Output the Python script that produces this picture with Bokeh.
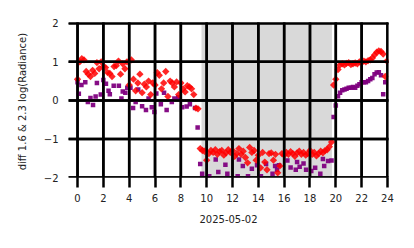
from bokeh.plotting import figure
from bokeh.embed import file_html
from bokeh.resources import INLINE
from bokeh.models import FixedTicker, ColumnDataSource, BoxAnnotation
import math

# ---------------- data ----------------
red_hours = [
    0.00, 0.17, 0.33, 0.50, 0.67, 0.83, 1.00, 1.17, 1.33, 1.50, 1.67, 1.83,
    2.00, 2.17, 2.33, 2.50, 2.67, 2.83, 3.00, 3.17, 3.33, 3.50, 3.67, 3.83,
    4.00, 4.17, 4.33, 4.50, 4.67, 4.83, 5.00, 5.17, 5.33, 5.50, 5.67, 5.83,
    6.00, 6.17, 6.33, 6.50, 6.67, 6.83, 7.00, 7.17, 7.33, 7.50, 7.67, 7.83,
    8.00, 8.17, 8.33, 8.50, 8.67, 8.83, 9.00, 9.17, 9.33, 9.50, 9.67, 9.83,
    10.00, 10.17, 10.33, 10.50, 10.67, 10.83, 11.00, 11.17, 11.33, 11.50, 11.67, 11.83,
    12.00, 12.17, 12.33, 12.50, 12.67, 12.83, 13.00, 13.17, 13.33, 13.50, 13.67, 13.83,
    14.00, 14.17, 14.33, 14.50, 14.67, 14.83, 15.00, 15.17, 15.33, 15.50, 15.67, 15.83,
    16.00, 16.17, 16.33, 16.50, 16.67, 16.83, 17.00, 17.17, 17.33, 17.50, 17.67, 17.83,
    18.00, 18.17, 18.33, 18.50, 18.67, 18.83, 19.00, 19.17, 19.33, 19.50, 19.67, 19.83,
    20.00, 20.17, 20.33, 20.50, 20.67, 20.83, 21.00, 21.17, 21.33, 21.50, 21.67, 21.83,
    22.00, 22.17, 22.33, 22.50, 22.67, 22.83, 23.00, 23.17, 23.33, 23.50, 23.67, 23.83,
    23.95,
]
red_diff = [
    0.55, 1.00, 1.08, 1.05, 0.75, 0.68, 0.62, 0.78, 0.70, 0.98, 0.82, 1.00,
    0.88, 0.85, 0.72, 0.70, 0.62, 0.88, 0.90, 1.02, 0.68, 0.95, 0.82, 1.00,
    0.40, 1.05, 0.55, 0.25, 0.45, 0.68, 0.20, 0.42, 0.35, 0.50, 0.15, 0.45,
    0.40, 0.72, 0.65, 0.30, 0.45, 0.75, 0.10, 0.50, 0.45, 0.35, 0.48, 0.15,
    0.45, 0.30, 0.22, 0.38, 0.35, 0.30, 0.15, -0.20, -0.22, -1.25, -1.30, -1.32,
    -1.55, -1.38, -1.30, -1.35, -1.28, -1.40, -1.33, -1.30, -1.42, -1.36, -1.28, -1.35,
    -1.30, -1.45, -1.38, -1.25, -1.40, -1.32, -1.48, -1.62, -1.22, -1.35, -1.30, -1.55,
    -1.42, -1.75, -1.35, -1.60, -1.80, -1.38, -1.36, -1.55, -1.40, -1.88, -1.70, -1.38,
    -1.42, -1.35, -1.40, -1.33, -1.38, -1.45, -1.36, -1.32, -1.40, -1.35, -1.42, -1.38,
    -1.30, -1.40, -1.35, -1.44, -1.38, -1.32, -1.36, -1.30, -1.28, -1.20, -1.08, 0.40,
    0.55, 0.80, 0.92, 0.95, 0.92, 0.96, 0.98, 0.93, 0.95, 0.97, 0.95, 1.00,
    0.98, 1.02, 1.00, 1.03, 1.05, 1.10, 1.18, 1.25, 1.28, 1.27, 1.20, 0.62,
    1.02,
]

purple_hours = [
    0.00, 0.10, 0.30, 0.60, 0.80, 1.00, 1.20, 1.40, 1.50, 1.80, 2.00, 2.20,
    2.40, 2.50, 2.80, 3.20, 3.40, 3.50, 3.70, 3.85, 4.10, 4.30, 4.50, 4.70,
    5.00, 5.30, 5.50, 5.75, 5.95, 6.10, 6.45, 6.70, 6.90, 7.30, 7.50, 7.80,
    8.10, 8.45, 8.70, 9.10, 9.30, 9.50, 9.65, 10.20, 10.70, 10.90, 11.45, 11.60,
    12.40, 12.50, 12.80, 13.20, 13.50, 13.90, 14.20, 14.60, 15.10, 15.30, 15.45, 15.60,
    16.25, 16.50, 16.90, 17.00, 17.20, 17.50, 17.70, 18.10, 18.40, 18.80, 19.00, 19.10,
    19.40, 19.67, 19.83, 20.00, 20.17, 20.33, 20.50, 20.67, 20.83, 21.00, 21.17, 21.33,
    21.50, 21.67, 21.83, 22.00, 22.17, 22.33, 22.50, 22.67, 22.83, 23.00, 23.17, 23.33,
    23.50, 23.67, 23.83,
]
purple_diff = [
    0.47, 0.17, 0.40, 0.47, -0.04, 0.06, -0.12, 0.10, 0.45, 0.15, 0.53, 0.43,
    0.25, 0.16, 0.38, 0.38, 0.05, 0.23, 0.20, 0.33, 0.33, -0.20, -0.04, 0.28,
    -0.15, -0.25, 0.05, -0.18, -0.30, 0.18, -0.10, 0.20, -0.25, -0.04, 0.05, 0.08,
    -0.18, -0.16, -0.10, -0.20, -0.70, -1.65, -1.90, -1.97, -1.53, -1.86, -1.67, -1.90,
    -1.97, -1.53, -1.70, -1.97, -1.77, -1.68, -1.97, -1.65, -1.90, -1.70, -1.80, -1.68,
    -1.56, -1.74, -1.80, -1.60, -1.72, -1.64, -1.80, -1.83, -1.75, -1.90, -1.52, -1.70,
    -1.57, -1.56, -0.43, -0.13, 0.11, 0.20, 0.26, 0.28, 0.30, 0.33, 0.33, 0.35,
    0.33, 0.38, 0.42, 0.47, 0.47, 0.47, 0.50, 0.55, 0.58, 0.68, 0.72, 0.73,
    0.65, 0.16, 0.47,
]

night_span = [9.6, 19.7]
x_ticks = [0, 2, 4, 6, 8, 10, 12, 14, 16, 18, 20, 22, 24]
y_ticks = [-2, -1, 0, 1, 2]
x_lim = (-0.7, 24.08)
y_lim = (-2.0, 2.02)
x_label = "2025-05-02"
y_label = "diff 1.6 & 2.3  log(Radiance)"

# ---------------- figure ----------------
p = figure(width=414, height=248, output_backend="svg", toolbar_location=None,
           x_range=x_lim, y_range=y_lim,
           min_border_left=68, min_border_right=26, min_border_top=22, min_border_bottom=71)
p.background_fill_color = "white"
p.border_fill_color = "white"
p.outline_line_color = None
p.xgrid.visible = False
p.ygrid.visible = False

# half thickness of a 2.5 px grid line, in data units (frame ~320 x 155 px)
hx = (x_lim[1] - x_lim[0]) / 320 * 1.25
hy = (y_lim[1] - y_lim[0]) / 155 * 1.25
lo_y, hi_y = y_lim[0] - 1, y_lim[1] + 1
lo_x, hi_x = x_lim[0] - 1, x_lim[1] + 1

# night shading
p.add_layout(BoxAnnotation(left=night_span[0], right=night_span[1], fill_color="#d9d9d9",
                           fill_alpha=1.0, line_color=None, level="underlay"))

# fallback grid bars beneath the markers
for t in x_ticks:
    p.add_layout(BoxAnnotation(left=t - hx, right=t + hx, fill_color="black", fill_alpha=1.0,
                               line_color=None, level="underlay"))
for t in y_ticks:
    p.add_layout(BoxAnnotation(bottom=t - hy, top=t + hy, fill_color="black", fill_alpha=1.0,
                               line_color=None, level="underlay"))

red_src = ColumnDataSource(dict(x=red_hours, y=red_diff))
pur_src = ColumnDataSource(dict(x=purple_hours, y=purple_diff))

p.scatter("x", "y", source=pur_src, marker="square", size=4.5,
          fill_color="purple", line_color=None, fill_alpha=0.95)
p.scatter("x", "y", source=red_src, marker="square", size=5.2, angle=math.pi / 4,
          fill_color="red", line_color=None, fill_alpha=0.85)

# grid bars on top of the markers
p.quad(left=[t - hx for t in x_ticks], right=[t + hx for t in x_ticks],
       bottom=[lo_y] * len(x_ticks), top=[hi_y] * len(x_ticks),
       fill_color="black", line_color=None)
p.quad(left=[lo_x] * len(y_ticks), right=[hi_x] * len(y_ticks),
       bottom=[t - hy for t in y_ticks], top=[t + hy for t in y_ticks],
       fill_color="black", line_color=None)

p.xaxis.ticker = FixedTicker(ticks=x_ticks)
p.yaxis.ticker = FixedTicker(ticks=y_ticks)
p.yaxis.major_label_overrides = {t: str(t).replace("-", "\u2212") for t in y_ticks}

for ax in (p.xaxis, p.yaxis):
    ax.axis_line_color = None
    ax.minor_tick_line_color = None
    ax.major_label_text_font = "DejaVu Sans"
    ax.major_label_text_font_size = "10px"
    ax.major_label_text_color = "#222222"
    ax.axis_label_text_font = "DejaVu Sans"
    ax.axis_label_text_font_size = "10px"
    ax.axis_label_text_font_style = "normal"
    ax.axis_label_text_color = "#222222"

p.xaxis.major_tick_line_color = "black"
p.xaxis.major_tick_line_width = 2.5
p.xaxis.major_tick_out = 10
p.xaxis.major_tick_in = 0
p.xaxis.major_label_standoff = 6
p.xaxis.axis_label = x_label
p.xaxis.axis_label_standoff = 10

p.yaxis.major_tick_line_color = None
p.yaxis.major_tick_out = 0
p.yaxis.major_tick_in = 0
p.yaxis.major_label_standoff = 10
p.yaxis.axis_label = y_label
p.yaxis.axis_label_standoff = 13

open("out.html", "w").write(file_html(p, INLINE))
